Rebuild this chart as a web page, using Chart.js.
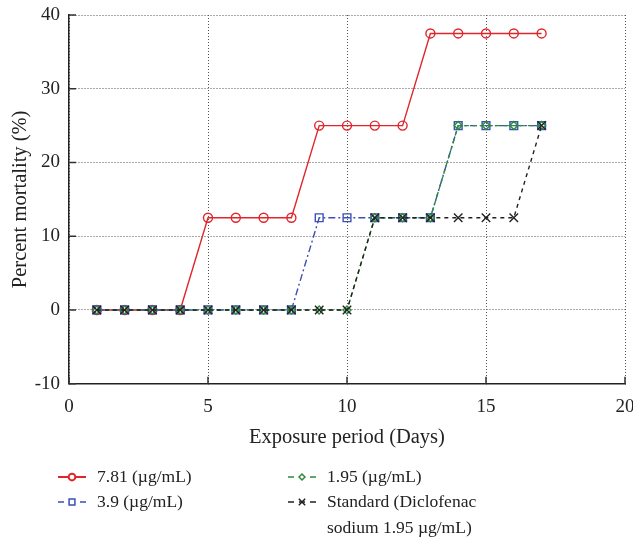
<!DOCTYPE html>
<html>
<head>
<meta charset="utf-8">
<script src="https://cdn.jsdelivr.net/npm/chart.js@4.4.1/dist/chart.umd.min.js"></script>
<style>
  html, body { margin: 0; padding: 0; background: #fff; overflow: hidden; }
  #wrap { width: 633px; height: 543px; position: relative; }
</style>
</head>
<body>
<div id="wrap"><canvas id="chart"></canvas></div>
<script>
// ===== Data =====
const days = [1, 2, 3, 4, 5, 6, 7, 8, 9, 10, 11, 12, 13, 14, 15, 16, 17];
const conc781 = [0, 0, 0, 0, 12.5, 12.5, 12.5, 12.5, 25, 25, 25, 25, 37.5, 37.5, 37.5, 37.5, 37.5];
const conc39 = [0, 0, 0, 0, 0, 0, 0, 0, 12.5, 12.5, 12.5, 12.5, 12.5, 25, 25, 25, 25];
const conc195 = [0, 0, 0, 0, 0, 0, 0, 0, 0, 0, 12.5, 12.5, 12.5, 25, 25, 25, 25];
const standard = [0, 0, 0, 0, 0, 0, 0, 0, 0, 0, 12.5, 12.5, 12.5, 12.5, 12.5, 12.5, 25];
const seriesLabels = [
  ["7.81 (µg/mL)"],
  ["3.9 (µg/mL)"],
  ["1.95 (µg/mL)"],
  ["Standard (Diclofenac", "sodium 1.95 µg/mL)"]
];
const xTicks = [0, 5, 10, 15, 20];
const yTicks = [-10, 0, 10, 20, 30, 40];

const FONT = "'Liberation Serif', 'DejaVu Serif', serif";
const toXY = (vals) => vals.map((v, i) => ({ x: days[i], y: v }));

// ===== Inward tick marks =====
const innerTicks = {
  id: "innerTicks",
  afterDatasetsDraw(chart) {
    const { ctx, chartArea, scales } = chart;
    ctx.save();
    ctx.strokeStyle = "#333";
    ctx.lineWidth = 1.5;
    ctx.beginPath();
    xTicks.forEach((t) => {
      const px = scales.x.getPixelForValue(t);
      ctx.moveTo(px, chartArea.bottom);
      ctx.lineTo(px, chartArea.bottom - 7);
    });
    yTicks.forEach((t) => {
      const py = scales.y.getPixelForValue(t);
      ctx.moveTo(chartArea.left, py);
      ctx.lineTo(chartArea.left + 7, py);
    });
    ctx.stroke();
    ctx.restore();
  }
};

// ===== Legend below the chart =====
const bottomLegend = {
  id: "bottomLegend",
  afterDraw(chart) {
    const ctx = chart.ctx;
    const spots = [
      { x: 58, y: 477 },
      { x: 58, y: 502 },
      { x: 288, y: 477 },
      { x: 288, y: 502 }
    ];
    ctx.save();
    chart.data.datasets.forEach((ds, i) => {
      const s = spots[i];
      ctx.strokeStyle = ds.borderColor;
      ctx.lineWidth = i === 0 ? 2 : 1.5;
      ctx.setLineDash(i === 0 ? [] : [6, 5]);
      ctx.beginPath();
      ctx.moveTo(s.x, s.y);
      ctx.lineTo(s.x + 28, s.y);
      ctx.stroke();
      ctx.setLineDash([]);
      ctx.fillStyle = "#fff";
      Chart.helpers.drawPoint(ctx, {
        pointStyle: ds.pointStyle,
        radius: ds.pointRadius * 0.75,
        borderWidth: 1.3,
        rotation: 0
      }, s.x + 14, s.y);
      ctx.fillStyle = "#222";
      ctx.font = "17.5px " + FONT;
      ctx.textBaseline = "middle";
      ctx.textAlign = "left";
      seriesLabels[i].forEach((line, k) => {
        ctx.fillText(line, s.x + 39, s.y + k * 26);
      });
    });
    ctx.restore();
  }
};

const ds = (label, vals, color, dash, style, r, order) => ({
  label: label,
  data: toXY(vals),
  order: order,
  borderColor: color,
  backgroundColor: "#fff",
  borderWidth: 1.4,
  borderDash: dash,
  pointStyle: style,
  pointRadius: r,
  pointBorderWidth: 1.4,
  pointBorderColor: color,
  pointBackgroundColor: "rgba(255,255,255,0)",
  tension: 0
});

new Chart(document.getElementById("chart"), {
  type: "line",
  data: {
    datasets: [
      ds(seriesLabels[0].join(" "), conc781, "#e0262b", [], "circle", 4.5, 4),
      ds(seriesLabels[1].join(" "), conc39, "#3a50b4", [7, 3, 2, 3], "rect", 5.5, 3),
      ds(seriesLabels[2].join(" "), conc195, "#2e8a3c", [5, 3], "rectRot", 4, 2),
      ds(seriesLabels[3].join(" "), standard, "#222", [4, 4], "crossRot", 6, 1)
    ]
  },
  options: {
    responsive: true,
    maintainAspectRatio: false,
    animation: false,
    layout: { padding: { top: 15, right: 8, bottom: 95, left: 0 } },
    plugins: {
      legend: { display: false },
      tooltip: { enabled: false }
    },
    scales: {
      x: {
        type: "linear",
        min: 0,
        max: 20,
        afterBuildTicks: (axis) => { axis.ticks = xTicks.map((v) => ({ value: v })); },
        afterFit: (axis) => { axis.paddingLeft = 0; axis.paddingRight = 0; },
        ticks: { color: "#222", font: { family: FONT, size: 19 }, padding: 12 },
        grid: { color: "#555", lineWidth: 1, tickLength: 0 },
        border: { display: true, color: "#222", width: 1.5, dash: [1, 2] },
        title: {
          display: true,
          text: "Exposure period (Days)",
          color: "#222",
          font: { family: FONT, size: 20.5, lineHeight: 1 },
          padding: { top: -3, bottom: 0 }
        }
      },
      y: {
        min: -10,
        max: 40,
        afterBuildTicks: (axis) => { axis.ticks = yTicks.map((v) => ({ value: v })); },
        afterFit: (axis) => { axis.paddingTop = 0; axis.paddingBottom = 0; axis.width = 69; },
        ticks: { color: "#222", font: { family: FONT, size: 19 }, padding: 9 },
        grid: { color: "#555", lineWidth: 1, tickLength: 0 },
        border: { display: true, color: "#222", width: 1.5, dash: [1, 2] },
        title: {
          display: true,
          text: "Percent mortality (%)",
          color: "#222",
          font: { family: FONT, size: 20.5 },
          padding: { top: 8, bottom: 0 }
        }
      }
    }
  },
  plugins: [innerTicks, bottomLegend]
});
</script>
</body>
</html>
